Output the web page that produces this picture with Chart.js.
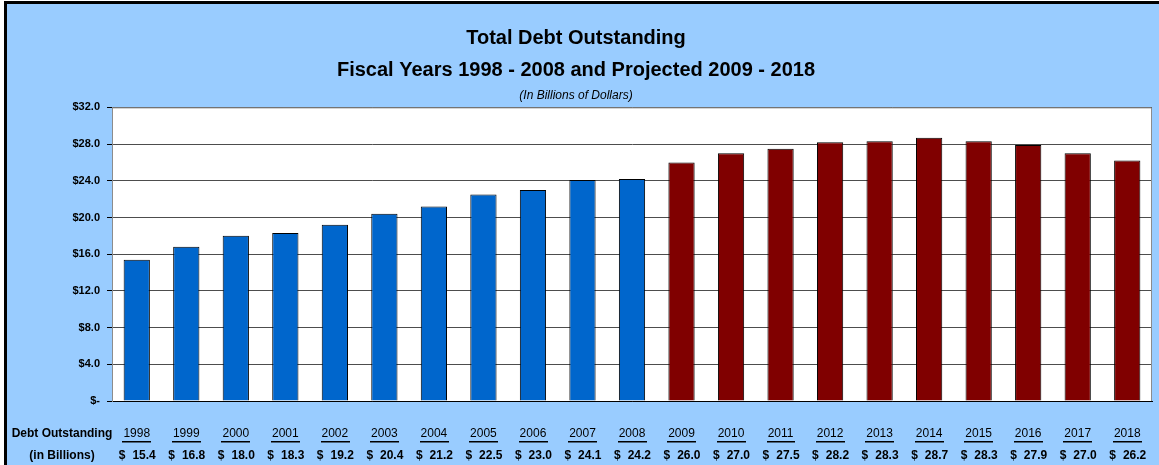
<!DOCTYPE html>
<html>
<head>
<meta charset="utf-8">
<script src="https://cdn.jsdelivr.net/npm/chart.js@4.4.1/dist/chart.umd.min.js"></script>
<style>
  html, body { margin: 0; padding: 0; background: #fff; }
  #wrap { width: 1159px; height: 465px; }
</style>
</head>
<body>
<div id="wrap"><canvas id="grafico"></canvas></div>
<script>
const anos = ['1998', '1999', '2000', '2001', '2002', '2003', '2004', '2005', '2006', '2007', '2008',
    '2009', '2010', '2011', '2012', '2013', '2014', '2015', '2016', '2017', '2018'];
const divida = [15.4, 16.8, 18.0, 18.3, 19.2, 20.4, 21.2, 22.5, 23.0, 24.1, 24.2,
    26.0, 27.0, 27.5, 28.2, 28.3, 28.7, 28.3, 27.9, 27.0, 26.2];
const ultimoAnoReal = 2008;
const rotuloLinha = ['Debt Outstanding', '(in Billions)'];
const titulo = ['Total Debt Outstanding', 'Fiscal Years 1998 - 2008 and Projected 2009 - 2018'];
const subtitulo = '(In Billions of Dollars)';

const corReal = '#0066CC';
const corProjetada = '#800000';
const cores = anos.map(a => Number(a) <= ultimoAnoReal ? corReal : corProjetada);

const FONTE = '"Liberation Sans", Arial, sans-serif';

const fundoPlugin = {
    id: 'fundo',
    beforeDraw(chart) {
        const { ctx, chartArea: a, width, height } = chart;
        ctx.save();
        ctx.fillStyle = '#fff';
        ctx.fillRect(0, 0, width, height);
        ctx.fillStyle = '#99CCFF';
        ctx.fillRect(5, 2, width - 5, height - 2);
        ctx.fillStyle = '#000';
        ctx.fillRect(4, 1, width - 4, 3);
        ctx.fillRect(4, 1, 3, height - 1);
        ctx.fillStyle = '#fff';
        ctx.fillRect(a.left, a.top, a.right - a.left, a.bottom - a.top);
        ctx.restore();
    },
    afterDraw(chart) {
        const { ctx, chartArea: a, scales } = chart;
        ctx.save();
        // plot border
        ctx.strokeStyle = '#8c8c8c';
        ctx.lineWidth = 1;
        ctx.beginPath();
        ctx.moveTo(a.left + 0.5, a.top + 0.5);
        ctx.lineTo(a.right - 0.5, a.top + 0.5);
        ctx.lineTo(a.right - 0.5, a.bottom);
        ctx.stroke();

        // table under the chart
        const yAno = 434, yValor = 456;
        ctx.fillStyle = '#000';
        ctx.textBaseline = 'middle';
        ctx.font = 'bold 12px ' + FONTE;
        ctx.textAlign = 'center';
        ctx.fillText(rotuloLinha[0], 62, yAno);
        ctx.fillText(rotuloLinha[1], 62, yValor);

        anos.forEach((ano, i) => {
            const x = scales.x.getPixelForValue(i);
            ctx.font = '12px ' + FONTE;
            ctx.textAlign = 'center';
            ctx.fillText(ano, x, yAno);
            const w = ctx.measureText(ano).width;
            ctx.fillRect(Math.round(x - w / 2 - 1), yAno + 7, Math.round(w + 2), 1.5);

            ctx.font = 'bold 12px ' + FONTE;
            ctx.textAlign = 'left';
            ctx.fillText('$', x - 18, yValor);
            ctx.textAlign = 'right';
            ctx.fillText(divida[i].toFixed(1), x + 19, yValor);
        });
        ctx.restore();
    }
};

new Chart(document.getElementById('grafico'), {
    type: 'bar',
    data: {
        labels: anos,
        datasets: [{
            data: divida,
            backgroundColor: cores,
            borderColor: '#000',
            borderWidth: 1,
            barPercentage: 0.53,
            categoryPercentage: 1.0
        }]
    },
    options: {
        responsive: true,
        maintainAspectRatio: false,
        animation: false,
        layout: { padding: { left: 0, right: 7, top: 4, bottom: 0 } },
        plugins: {
            legend: { display: false },
            tooltip: { enabled: false },
            title: {
                display: true,
                text: titulo,
                color: '#000',
                font: { family: FONTE, size: 20, weight: 'bold', lineHeight: 1.6 },
                padding: { top: 18, bottom: 2 }
            },
            subtitle: {
                display: true,
                text: subtitulo,
                color: '#000',
                font: { family: FONTE, size: 12, style: 'italic', lineHeight: 1.2 },
                padding: { top: 0, bottom: 5 }
            }
        },
        scales: {
            x: {
                grid: { display: false },
                border: { display: true, color: '#000' },
                ticks: { display: false },
                afterFit(s) { s.height = 64; }
            },
            y: {
                min: 0,
                max: 32,
                ticks: {
                    stepSize: 4,
                    color: '#000',
                    padding: 7,
                    font: { family: FONTE, size: 11, weight: 'bold' },
                    callback: v => v === 0 ? '$-' : '$' + v.toFixed(1)
                },
                grid: { color: '#4d4d4d', tickLength: 5, tickColor: '#000' },
                border: { display: true, color: '#8c8c8c' },
                afterFit(s) { s.width = 112; }
            }
        }
    },
    plugins: [fundoPlugin]
});
</script>
</body>
</html>
